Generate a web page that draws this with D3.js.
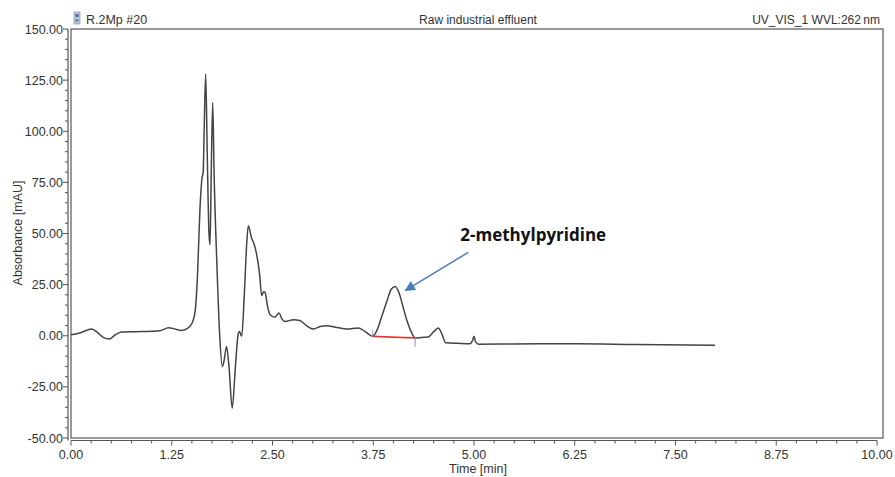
<!DOCTYPE html>
<html>
<head>
<meta charset="utf-8">
<script src="https://cdn.jsdelivr.net/npm/d3@7"></script>
<style>
    body { margin: 0; background: #fff; }
    svg text { font-family: "Liberation Sans", Arial, sans-serif; fill: #333; }
</style>
</head>
<body>
<svg id="chart" width="895" height="477"></svg>
<script>
/*Время удерживания, мин*/
const timeMin = [0, 0.12, 0.257, 0.33, 0.40, 0.475, 0.55, 0.629, 0.80, 1.00, 1.10, 1.21, 1.30, 1.37, 1.44,
    1.50, 1.54, 1.57, 1.60, 1.625, 1.640, 1.652, 1.671, 1.690, 1.712, 1.725, 1.740, 1.758, 1.775, 1.81,
    1.845, 1.877, 1.90, 1.93, 1.96, 2.00, 2.04, 2.075, 2.09, 2.118, 2.15, 2.18, 2.20, 2.24, 2.27, 2.30,
    2.34, 2.366, 2.39, 2.407, 2.44, 2.47, 2.53, 2.58, 2.62, 2.655, 2.76, 2.84, 2.92, 3.01, 3.09, 3.17,
    3.30, 3.42, 3.565, 3.65, 3.743, 3.80, 3.86, 3.92, 3.97, 4.02, 4.07, 4.12, 4.165, 4.22, 4.27, 4.35,
    4.43, 4.50, 4.557, 4.60, 4.65, 4.80, 4.95, 4.98, 5.00, 5.02, 5.06, 5.5, 6.27, 7.0, 7.99];
/*Поглощение, mAU*/
const absorbance = [0.5, 1.5, 3.3, 1.5, -0.8, -1.6, 0.5, 1.8, 2.0, 2.2, 2.4, 3.9, 3.2, 2.6, 3.5,
    6.0, 12, 30, 62, 77, 80, 100, 128, 90, 50, 44.5, 80, 114, 80, 35,
    0, -15, -12, -5.2, -15, -35.4, -15, 1, 2.1, -0.3, 20, 45, 53.8, 47.8, 45, 40.4,
    30, 19.6, 21.5, 21.2, 14, 10.3, 9.1, 11.1, 8, 7.0, 7.8, 7.5, 5, 3.3, 4.5, 4.9,
    4, 3.3, 3.8, 2, -0.3, 3, 10, 17, 22.5, 24.1, 21, 14, 7.8, 2, -1.1, -0.8,
    -0.6, 2, 3.8, 1, -3.4, -3.7, -3.9, -2.5, -0.3, -3, -4.1, -4.0, -3.9, -4.3, -4.7];

/*Базовая линия интегрирования пика*/
const baselineTime = [3.743, 4.27];
const baselineValue = [-0.3, -1.1];

const xTicks = [0, 1.25, 2.5, 3.75, 5, 6.25, 7.5, 8.75, 10];
const yTicks = [-50, -25, 0, 25, 50, 75, 100, 125, 150];

const headerLeft = "R.2Mp #20";
const headerCenter = "Raw industrial effluent";
const headerRight = "UV_VIS_1 WVL:262\u2009nm";
const peakName = "2-methylpyridine";
/*Положение подписи пика (в единицах данных)*/
const labelAt = [4.83, 46.5];
const arrowFrom = [4.93, 40.8];
const arrowTo = [4.15, 22.2];

const svg = d3.select('#chart');
const plotLeft = 71, plotRight = 877, plotTop = 29, plotBottom = 438, frameRight = 883;

const x = d3.scaleLinear().domain([0, 10]).range([plotLeft, plotRight]);
const y = d3.scaleLinear().domain([-50, 150]).range([plotBottom, plotTop]);

/*Рамка графика*/
svg.append('rect')
    .attr('x', plotLeft).attr('y', plotTop)
    .attr('width', frameRight - plotLeft).attr('height', plotBottom - plotTop)
    .attr('fill', 'none').attr('stroke', '#555').attr('stroke-width', 1.2);

/*Ось X*/
const xAxis = svg.append('g').attr('transform', 'translate(0,' + (plotBottom + 2.5) + ')');
xAxis.append('line')
    .attr('x1', plotLeft).attr('x2', plotRight)
    .attr('stroke', '#555').attr('stroke-width', 1.2);
xAxis.selectAll('line.minor')
    .data(d3.range(0, 41).map(d => d * 0.25))
    .enter().append('line')
        .attr('class', 'minor')
        .attr('x1', d => x(d)).attr('x2', d => x(d))
        .attr('y1', 0).attr('y2', d => (xTicks.includes(d) ? 5 : 3))
        .attr('stroke', '#555').attr('stroke-width', 1);
xAxis.selectAll('text')
    .data(xTicks)
    .enter().append('text')
        .attr('x', d => x(d)).attr('y', 18)
        .attr('text-anchor', 'middle')
        .attr('font-size', 12.5)
        .text(d => d.toFixed(2));

/*Ось Y*/
const yAxis = svg.append('g').attr('transform', 'translate(' + (plotLeft - 3) + ',0)');
yAxis.append('line')
    .attr('y1', plotTop).attr('y2', plotBottom + 2.5)
    .attr('stroke', '#555').attr('stroke-width', 1.2);
yAxis.selectAll('line.minor')
    .data(d3.range(-50, 151, 5))
    .enter().append('line')
        .attr('class', 'minor')
        .attr('y1', d => y(d)).attr('y2', d => y(d))
        .attr('x1', 0).attr('x2', d => (yTicks.includes(d) ? -5 : -3))
        .attr('stroke', '#555').attr('stroke-width', 1);
yAxis.selectAll('text')
    .data(yTicks)
    .enter().append('text')
        .attr('x', -5).attr('y', d => y(d) + 4.5)
        .attr('text-anchor', 'end')
        .attr('font-size', 12.5)
        .text(d => d.toFixed(2));

/*Подписи осей*/
svg.append('text')
    .attr('x', 478).attr('y', 473)
    .attr('text-anchor', 'middle').attr('font-size', 12.5)
    .text('Time [min]');
svg.append('text')
    .attr('transform', 'translate(22,' + 233 + ') rotate(-90)')
    .attr('text-anchor', 'middle').attr('font-size', 12.5)
    .text('Absorbance [mAU]');

/*Заголовки*/
const icon = svg.append('g').attr('transform', 'translate(74,12)');
icon.append('rect').attr('width', 6).attr('height', 12).attr('fill', '#b9c7d6').attr('stroke', '#7a8ea6').attr('stroke-width', 0.6);
icon.append('rect').attr('x', 1.5).attr('y', 2).attr('width', 3).attr('height', 3).attr('fill', '#4d6f94');
icon.append('rect').attr('x', 1.5).attr('y', 7).attr('width', 3).attr('height', 3).attr('fill', '#6d8fb4');
svg.append('text').attr('x', 86).attr('y', 24).attr('font-size', 12.5).text(headerLeft);
svg.append('text').attr('x', 478).attr('y', 24).attr('text-anchor', 'middle').attr('font-size', 12).text(headerCenter);
svg.append('text').attr('x', 880).attr('y', 24).attr('text-anchor', 'end').attr('font-size', 12).text(headerRight);

/*Хроматограмма*/
const points = timeMin.map((t, i) => [t, absorbance[i]]);
const line = d3.line()
    .x(d => x(d[0]))
    .y(d => y(d[1]))
    .curve(d3.curveMonotoneX);
svg.append('path')
    .datum(points)
    .attr('d', line)
    .attr('fill', 'none')
    .attr('stroke', '#444')
    .attr('stroke-width', 1.5)
    .attr('stroke-linejoin', 'round');

/*Базовая линия и маркеры интегрирования*/
svg.append('line')
    .attr('x1', x(baselineTime[0])).attr('y1', y(baselineValue[0]))
    .attr('x2', x(baselineTime[1])).attr('y2', y(baselineValue[1]))
    .attr('stroke', '#e8302a').attr('stroke-width', 1.6);
svg.append('line')
    .attr('x1', x(baselineTime[0])).attr('x2', x(baselineTime[0]))
    .attr('y1', y(baselineValue[0]) - 6).attr('y2', y(baselineValue[0]))
    .attr('stroke', '#7aa3d6').attr('stroke-width', 1);
svg.append('line')
    .attr('x1', x(baselineTime[1])).attr('x2', x(baselineTime[1]))
    .attr('y1', y(baselineValue[1])).attr('y2', y(baselineValue[1]) + 9)
    .attr('stroke', '#7aa3d6').attr('stroke-width', 1);

/*Аннотация пика*/
svg.append('defs').append('marker')
    .attr('id', 'arrow')
    .attr('viewBox', '0 0 10 10')
    .attr('refX', 9).attr('refY', 5)
    .attr('markerWidth', 7).attr('markerHeight', 7)
    .attr('orient', 'auto')
    .append('path')
        .attr('d', 'M0,0 L10,5 L0,10 z')
        .attr('fill', '#4a7ebb');
svg.append('line')
    .attr('x1', x(arrowFrom[0])).attr('y1', y(arrowFrom[1]))
    .attr('x2', x(arrowTo[0])).attr('y2', y(arrowTo[1]))
    .attr('stroke', '#4a7ebb').attr('stroke-width', 1.5)
    .attr('marker-end', 'url(#arrow)');
svg.append('text')
    .attr('x', x(labelAt[0])).attr('y', y(labelAt[1]))
    .attr('font-size', 17).attr('font-weight', 'bold')
    .style('fill', '#111')
    .style('font-family', '"Open Sans", "Liberation Sans", sans-serif')
    .text(peakName);
</script>
</body>
</html>
